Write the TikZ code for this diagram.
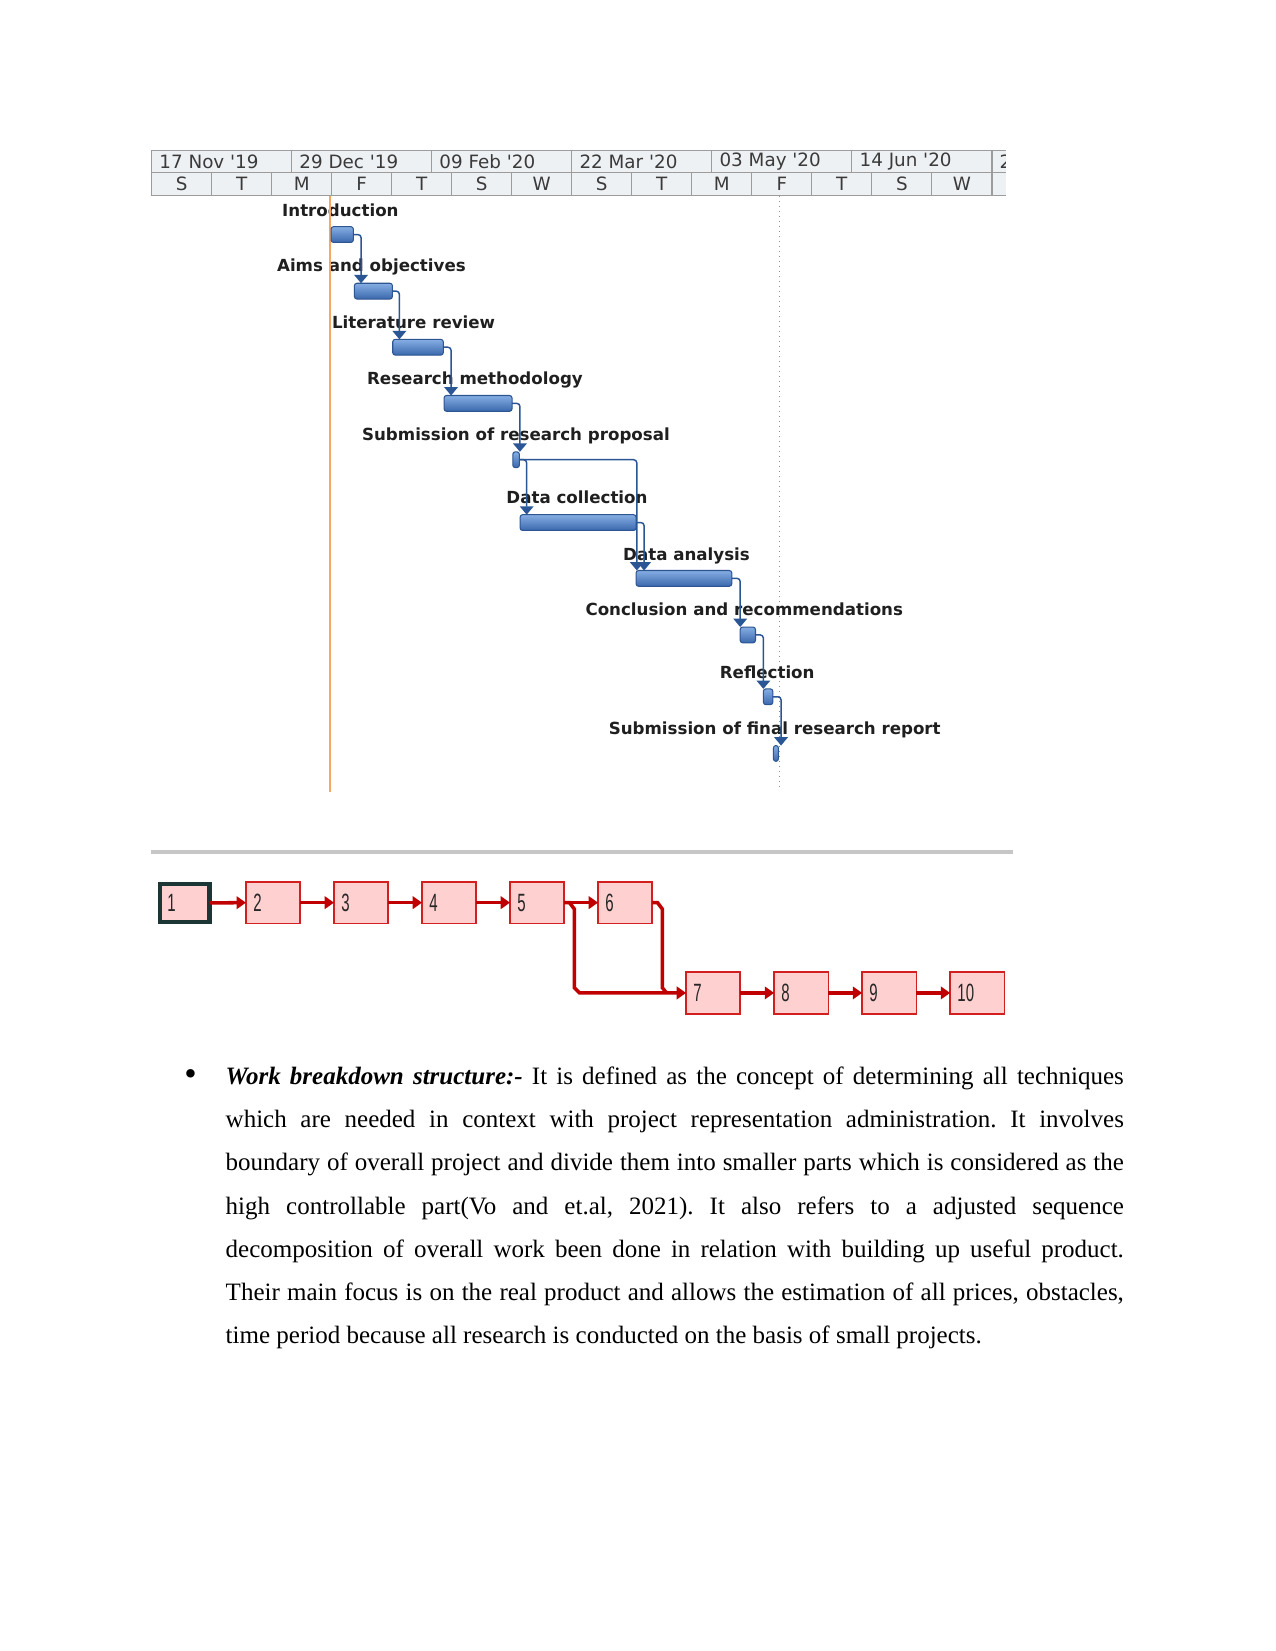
\documentclass[tikz,border=0pt]{standalone}
\usepackage{fontspec}
\setmainfont{Liberation Serif}
\newfontfamily\gfont{DejaVu Sans}
\newfontfamily\nfont{Liberation Sans}
\usetikzlibrary{arrows.meta,calc}
\definecolor{hdrfill}{HTML}{EEF1F4}
\definecolor{hdrline}{HTML}{9C9C9C}
\definecolor{hdrtxt}{HTML}{3A3A3A}
\definecolor{bartop}{HTML}{86AEE4}
\definecolor{barbot}{HTML}{3A68AC}
\definecolor{barline}{HTML}{2C5592}
\definecolor{gconncol}{HTML}{2A5696}
\definecolor{todayline}{HTML}{F5A862}
\definecolor{dotcol}{HTML}{8E8E8E}
\definecolor{sepcol}{HTML}{C6C6C6}
\definecolor{npink}{HTML}{FFD0D0}
\definecolor{nred}{HTML}{D21F1F}
\definecolor{narrcol}{HTML}{C00000}
\definecolor{nfirst}{HTML}{1C3636}
\definecolor{ntxt}{HTML}{262626}
\tikzset{
 hdrtext/.style={font=\gfont\fontsize{8.8pt}{10pt}\selectfont, text=hdrtxt, inner sep=0},
 glabel/.style={font=\gfont\bfseries\fontsize{8pt}{9.5pt}\selectfont, text=black!88, inner sep=0, anchor=base west},
 gbar/.style={draw=barline, line width=0.5pt, top color=bartop, bottom color=barbot, rounded corners=1.2pt, inner sep=0, outer sep=0, minimum height=15*0.5054pt},
 gconn/.style={draw=gconncol, line width=0.7pt, rounded corners=1.5pt, -{Triangle[width=6.5pt,length=4pt]}},
 nbox/.style={draw=nred, fill=npink, line width=0.8pt, inner sep=0, outer sep=0, minimum width=51.5*0.5054pt, minimum height=39.5*0.5054pt},
 ntext/.style={font=\nfont\fontsize{12pt}{13pt}\selectfont, text=ntxt, inner sep=0, anchor=west},
 nline/.style={draw=narrcol, line width=1.7pt},
 narr/.style={nline, -{Triangle[width=6pt,length=4.5pt]}},
}
\begin{document}
\begin{tikzpicture}[x=0.5054pt,y=-0.5054pt]
\useasboundingbox[fill=white] (0,0) rectangle (1211,1568);
% ---------- timescale header
\fill[hdrfill] (143,143) rectangle (955,186);
\draw[hdrline, line width=0.6pt] (143,143) -- (955,143) (143,163.5) -- (955,163.5) (143,186) -- (955,186);
\foreach \x in {144,277,410,543,676,809,942} \draw[hdrline, line width=0.6pt] (\x,143) -- (\x,163.5);
\foreach \i in {0,...,14} \draw[hdrline, line width=0.6pt] ({144+57*\i},163.5) -- ({144+57*\i},186);
\begin{scope}
\clip (143,143) rectangle (955,186);
\foreach \x/\t [count=\i] in {144/17 Nov \textquotesingle19, 277/29 Dec \textquotesingle19, 410/09 Feb \textquotesingle20, 543/22 Mar \textquotesingle20, 676/03 May \textquotesingle20, 809/14 Jun \textquotesingle20, 942/2}
  \node[hdrtext, anchor=west] (ht\i) at (\x+7,153.5) {\t};
\end{scope}
\foreach \l [count=\i from 0] in {S,T,M,F,T,S,W,S,T,M,F,T,S,W}
  \node[hdrtext] (hb\i) at ({144+57*\i+28.5},175) {\l};
% ---------- task labels
\node[glabel] (l1) at (267.6,205.8) {Introduction};
\node[glabel] (l2) at (262.8,258.1) {Aims and objectives};
\node[glabel] (l3) at (315,311.9) {Literature review};
\node[glabel] (l4) at (348.3,365) {Research methodology};
\node[glabel] (l5) at (343.5,418.4) {Submission of research proposal};
\node[glabel] (l6) at (480.6,478.2) {Data collection};
\node[glabel] (l7) at (591.5,532) {Data analysis};
\node[glabel] (l8) at (555.7,585) {Conclusion and recommendations};
\node[glabel] (l9) at (683.3,644.2) {Reflection};
\node[glabel] (l10) at (577.8,697.4) {Submission of final research report};
% ---------- current date / status lines
\coordinate (ot) at (313,186); \coordinate (ob) at (313,752);
\draw[todayline, line width=1pt] (ot) -- (ob);
\coordinate (dt) at (740,186); \coordinate (db) at (740,748);
\draw[dotcol, line width=0.6pt, dash pattern=on 0.6pt off 1.8pt] (dt) -- (db);
% ---------- bars
\node[gbar, minimum width=21.2*0.5054pt] (g1) at (325,222.75) {};
\node[gbar, minimum width=36.1*0.5054pt] (g2) at (354.65,276.5) {};
\node[gbar, minimum width=48*0.5054pt] (g3) at (397,329.75) {};
\node[gbar, minimum width=64.6*0.5054pt] (g4) at (454,383.1) {};
\node[gbar, minimum width=6.3*0.5054pt] (g5) at (490.15,436.6) {};
\node[gbar, minimum width=110.1*0.5054pt] (g6) at (549.05,496.3) {};
\node[gbar, minimum width=90.9*0.5054pt] (g7) at (649.55,549.3) {};
\node[gbar, minimum width=14.5*0.5054pt] (g8) at (710.25,603) {};
\node[gbar, minimum width=9*0.5054pt] (g9) at (729.5,661.75) {};
\node[gbar, minimum width=4.8*0.5054pt] (g10) at (736.9,715.55) {};
% ---------- dependency links
\draw[gconn] (g1.east) -| ($(g2.north west)+(6.3,0)$);
\draw[gconn] (g2.east) -| ($(g3.north west)+(6.3,0)$);
\draw[gconn] (g3.east) -| ($(g4.north west)+(6.7,0)$);
\draw[gconn] (g4.east) -| ($(g5.north east)+(0.5,0)$);
\draw[gconn] (g5.east) -| ($(g6.north west)+(6.2,0)$);
\draw[gconn] (g5.east) -| ($(g7.north west)+(0.7,0)$);
\draw[gconn] (g6.east) -| ($(g7.north west)+(7.6,0)$);
\draw[gconn] (g7.east) -| ($(g8.north west)+(0,0)$);
\draw[gconn] (g8.east) -| ($(g9.north west)+(0,0)$);
\draw[gconn] (g9.east) -| ($(g10.north west)+(7.3,0)$);
% ---------- separator
\coordinate (sl) at (143,809); \coordinate (sr) at (962,809);
\draw[sepcol, line width=1.8pt] (sl) -- (sr);
% ---------- network diagram
\node[nbox, draw=nfirst, line width=2pt, minimum width=47*0.5054pt, minimum height=35.5*0.5054pt] (b1) at (175.5,857.5) {};
\foreach \k in {2,...,6}
  \node[nbox] (b\k) at ({150+83.6*(\k-1)+25.75},857.25) {};
\foreach \k in {7,...,10}
  \node[nbox] (b\k) at ({150+83.6*(\k-1)+25.75},943) {};
\foreach \k in {1,...,10}
  \node[ntext] (n\k) at ([xshift=3.3pt]b\k.west) {\scalebox{0.6}[1]{\k}};
\draw[narr] (b1.east) -- (b2.west);
\draw[narr] (b2.east) -- (b3.west);
\draw[narr] (b3.east) -- (b4.west);
\draw[narr] (b4.east) -- (b5.west);
\draw[narr] (b5.east) -- (b6.west);
\draw[narr] (b7.east) -- (b8.west);
\draw[narr] (b8.east) -- (b9.west);
\draw[narr] (b9.east) -- (b10.west);
\path (b5.east) ++(9.5,0) coordinate (v1);
\path (b6.east) ++(9.5,0) coordinate (v2);
\draw[nline] (b6.east) -- ++(5,0) -- ($(v2)+(0,6)$) -- ($(v2|-b7.west)+(0,-5)$) -- ($(v2|-b7.west)+(4,0)$);
\draw[narr] (b5.east) -- ++(5,0) -- ($(v1)+(0,6)$) -- ($(v1|-b7.west)+(0,-5)$) -- ($(v1|-b7.west)+(5,0)$) -- (b7.west);
% ---------- text
\node[anchor=base, inner sep=0, font=\fontsize{17pt}{18pt}\selectfont] (bul) at (181,1031) {\textbullet};
\node[anchor=base west, inner sep=0] (para) at (214,1030) {\parbox[t]{431.1pt}{\fontsize{12pt}{20.72pt}\selectfont\frenchspacing\hyphenpenalty=10000\tolerance=10000%
\textbf{\textit{Work breakdown structure:-}} It is defined as the concept of determining all techniques\linebreak
which are needed in context with project representation administration. It involves\linebreak
boundary of overall project and divide them into smaller parts which is considered as the\linebreak
high controllable part(Vo and et.al, 2021). It also refers to a adjusted sequence\linebreak
decomposition of overall work been done in relation with building up useful product.\linebreak
Their main focus is on the real product and allows the estimation of all prices, obstacles,\linebreak
time period because all research is conducted on the basis of small projects.}};
\end{tikzpicture}
\end{document}
